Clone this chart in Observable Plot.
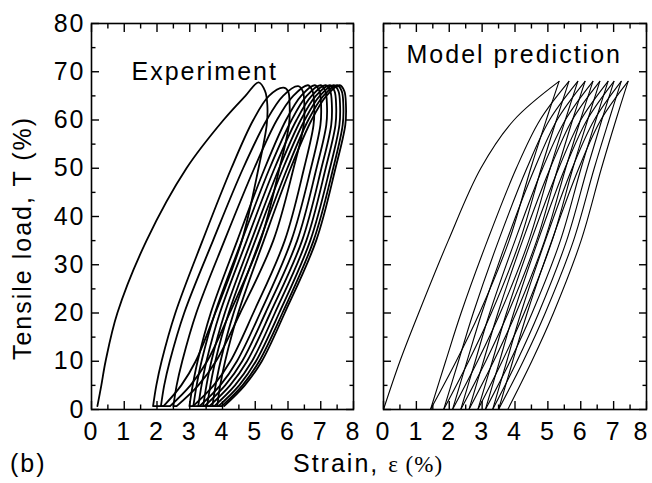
<!DOCTYPE html>
<html>
<head>
<meta charset="utf-8">
<script src="https://cdn.jsdelivr.net/npm/d3@7"></script>
<script src="https://cdn.jsdelivr.net/npm/@observablehq/plot@0.6"></script>
<style>
  body { margin: 0; background: #fff; }
  #wrap { position: relative; width: 652px; height: 483px; background: #fff; overflow: hidden; }
  #wrap svg { position: absolute; top: 0; overflow: visible; }
</style>
</head>
<body>
<div id="wrap"></div>
<script>
// ---------- tick values ----------
const xMajorTicks = [0, 1, 2, 3, 4, 5, 6, 7, 8];
const xMinorTicks = [0.5, 1.5, 2.5, 3.5, 4.5, 5.5, 6.5, 7.5];
const yMajorTicks = [0, 10, 20, 30, 40, 50, 60, 70, 80];
const yMinorTicks = [5, 15, 25, 35, 45, 55, 65, 75];

// ---------- Experiment: each loop is a strain path at these load levels ----------
// load levels along one loop: loading up, peak (per loop), rounded nose, unloading down
const expPathT = [0.7, 5, 10, 20, 35, 50, 60, 65, "peak", 66, 63, 59, 50, 35, 20, 10, 5, 0.7];
const expPeakT = [67.8, 66.7, 67.0, 67.2, 67.2, 67.2, 67.2, 67.2, 67.2, 67.2, 67.2];
const expFloorT = 0.7;
const expLoop1  = [0.18, 0.30, 0.43, 0.79, 1.68, 2.90, 4.03, 4.70, 5.10, 5.30, 5.37, 5.35, 5.10, 4.59, 3.78, 3.18, 2.74, 2.20];
const expLoop2  = [1.88, 1.98, 2.14, 2.56, 3.39, 4.27, 4.94, 5.42, 5.86, 6.00, 6.05, 6.03, 5.74, 5.16, 4.22, 3.53, 3.02, 2.40];
const expLoop3  = [2.12, 2.22, 2.39, 2.83, 3.71, 4.63, 5.35, 5.85, 6.31, 6.45, 6.50, 6.48, 6.17, 5.55, 4.54, 3.80, 3.26, 2.60];
const expLoop4  = [2.50, 2.60, 2.77, 3.20, 4.06, 4.97, 5.66, 6.16, 6.61, 6.75, 6.80, 6.78, 6.49, 5.90, 4.94, 4.24, 3.73, 3.10];
const expLoop5  = [2.99, 3.09, 3.24, 3.64, 4.45, 5.29, 5.94, 6.40, 6.82, 6.96, 7.01, 6.99, 6.70, 6.10, 5.15, 4.44, 3.93, 3.30];
const expLoop6  = [3.11, 3.21, 3.36, 3.77, 4.59, 5.44, 6.11, 6.57, 7.00, 7.14, 7.19, 7.17, 6.87, 6.28, 5.31, 4.60, 4.08, 3.45];
const expLoop7  = [3.26, 3.36, 3.51, 3.92, 4.74, 5.59, 6.26, 6.72, 7.15, 7.29, 7.34, 7.32, 7.02, 6.43, 5.46, 4.75, 4.23, 3.60];
const expLoop8  = [3.41, 3.51, 3.66, 4.07, 4.88, 5.73, 6.39, 6.85, 7.28, 7.42, 7.47, 7.45, 7.15, 6.56, 5.60, 4.90, 4.38, 3.75];
const expLoop9  = [3.53, 3.63, 3.78, 4.19, 5.00, 5.85, 6.51, 6.97, 7.40, 7.54, 7.59, 7.57, 7.28, 6.68, 5.73, 5.02, 4.51, 3.88];
const expLoop10 = [3.69, 3.79, 3.94, 4.34, 5.14, 5.98, 6.62, 7.08, 7.50, 7.64, 7.69, 7.67, 7.38, 6.78, 5.83, 5.12, 4.61, 3.98];
const expLoop11 = [3.84, 3.93, 4.08, 4.48, 5.26, 6.08, 6.72, 7.17, 7.58, 7.72, 7.77, 7.75, 7.45, 6.86, 5.90, 5.20, 4.68, 4.05];

// ---------- Model prediction: loading and unloading branches ----------
const modelLoadT   = [0, 10, 20, 35, 50, 60, 68];
const modelUnloadT = [68, 60, 50, 35, 20, 10, 0];
const modelLoad1  = [0.00, 0.50, 1.07, 1.97, 2.96, 3.97, 5.34];
const modelLoad2  = [1.43, 1.89, 2.36, 3.16, 4.04, 4.76, 5.64];
const modelLoad3  = [1.83, 2.28, 2.73, 3.50, 4.36, 5.05, 5.91];
const modelLoad4  = [2.10, 2.54, 2.99, 3.75, 4.60, 5.28, 6.13];
const modelLoad5  = [2.35, 2.79, 3.23, 4.00, 4.84, 5.53, 6.37];
const modelLoad6  = [2.60, 3.04, 3.48, 4.23, 5.07, 5.74, 6.58];
const modelLoad7  = [2.87, 3.31, 3.74, 4.49, 5.33, 6.00, 6.83];
const modelLoad8  = [3.10, 3.53, 3.96, 4.70, 5.52, 6.19, 7.01];
const modelLoad9  = [3.32, 3.75, 4.18, 4.92, 5.74, 6.41, 7.23];
const modelLoad10 = [3.50, 3.93, 4.37, 5.12, 5.94, 6.61, 7.44];
const modelUnload1  = [5.34, 4.95, 4.48, 3.82, 2.92, 2.21, 1.43];
const modelUnload2  = [5.64, 5.26, 4.80, 4.15, 3.28, 2.59, 1.83];
const modelUnload3  = [5.91, 5.53, 5.07, 4.42, 3.55, 2.86, 2.10];
const modelUnload4  = [6.13, 5.75, 5.30, 4.66, 3.79, 3.11, 2.35];
const modelUnload5  = [6.37, 5.99, 5.54, 4.90, 4.03, 3.35, 2.60];
const modelUnload6  = [6.58, 6.21, 5.76, 5.13, 4.28, 3.61, 2.87];
const modelUnload7  = [6.83, 6.46, 6.01, 5.38, 4.52, 3.85, 3.10];
const modelUnload8  = [7.01, 6.64, 6.20, 5.57, 4.72, 4.06, 3.32];
const modelUnload9  = [7.23, 6.86, 6.41, 5.78, 4.92, 4.25, 3.50];
const modelUnload10 = [7.44, 7.07, 6.63, 6.01, 5.17, 4.51, 3.78];

// ---------- build tables ----------
const expLoops = [expLoop1, expLoop2, expLoop3, expLoop4, expLoop5, expLoop6, expLoop7, expLoop8, expLoop9, expLoop10, expLoop11];
const expData = [];
expLoops.forEach((xs, i) => xs.forEach((x, j) => {
  expData.push({loop: i, x, y: expPathT[j] === "peak" ? expPeakT[i] : expPathT[j]});
}));
const expFlats = [];
for (let i = 0; i < expLoops.length - 1; i++) {
  expFlats.push({x1: expLoops[i][expLoops[i].length - 1], x2: expLoops[i + 1][0], y: expFloorT});
}

const modelLoads = [modelLoad1, modelLoad2, modelLoad3, modelLoad4, modelLoad5, modelLoad6, modelLoad7, modelLoad8, modelLoad9, modelLoad10];
const modelUnloads = [modelUnload1, modelUnload2, modelUnload3, modelUnload4, modelUnload5, modelUnload6, modelUnload7, modelUnload8, modelUnload9, modelUnload10];
const modelData = [];
modelLoads.forEach((xs, i) => xs.forEach((x, j) => modelData.push({branch: "L" + i, x, y: modelLoadT[j]})));
modelUnloads.forEach((xs, i) => xs.forEach((x, j) => modelData.push({branch: "U" + i, x, y: modelUnloadT[j]})));

// ---------- shared pieces ----------
const FONT = "'Liberation Sans', Arial, Helvetica, sans-serif";
const baseStyle = {fontFamily: FONT, fontSize: "25px", letterSpacing: "2px", background: "none", overflow: "visible", color: "black"};

function frameAndTicks(isLeft) {
  const tk = {stroke: "black", strokeWidth: 1.4, fill: "none", label: null};
  const lab = {anchor: "bottom", tickSize: 0, tickPadding: 13, fontSize: 25, fill: "black", label: null};
  const marks = [
    Plot.axisX(xMajorTicks, {...tk, anchor: "bottom", tickSize: -8}),
    Plot.axisX(xMinorTicks, {...tk, anchor: "bottom", tickSize: -4.5}),
    Plot.axisX(xMajorTicks, {...tk, anchor: "top", tickSize: -8}),
    Plot.axisX(xMinorTicks, {...tk, anchor: "top", tickSize: -4.5}),
    Plot.axisY(yMajorTicks, {...tk, anchor: "left", tickSize: -8}),
    Plot.axisY(yMinorTicks, {...tk, anchor: "left", tickSize: -4.5}),
    Plot.axisY(yMajorTicks, {...tk, anchor: "right", tickSize: -8}),
    Plot.axisY(yMinorTicks, {...tk, anchor: "right", tickSize: -4.5}),
    Plot.frame({stroke: "black", strokeWidth: 1.6})
  ];
  if (isLeft) {
    marks.push(Plot.axisX(xMajorTicks, lab));
    marks.push(Plot.axisY(yMajorTicks, {anchor: "left", tickSize: 0, tickPadding: 6, fontSize: 25, fill: "black", label: null}));
  } else {
    // last label nudged inward so it stays inside the picture, as in the reference
    marks.push(Plot.axisX(xMajorTicks.slice(0, -1), lab));
    marks.push(Plot.axisX(xMajorTicks.slice(-1), {...lab, dx: -5}));
  }
  return marks;
}

const wrap = document.getElementById("wrap");

// Left panel: Experiment
const left = Plot.plot({
  width: 370, height: 450,
  marginLeft: 91, marginRight: 17, marginTop: 23, marginBottom: 41,
  x: {domain: [0, 8], label: null},
  y: {domain: [0, 80], label: null},
  style: baseStyle,
  marks: [
    Plot.line(expData, {x: "x", y: "y", z: "loop", curve: "catmull-rom", stroke: "black", strokeWidth: 1.8}),
    Plot.link(expFlats, {x1: "x1", x2: "x2", y1: "y", y2: "y", stroke: "black", strokeWidth: 1.8}),
    Plot.text(["Experiment"], {frameAnchor: "top-left", dx: 40, dy: 48, textAnchor: "start", lineAnchor: "middle", fontSize: 25, fill: "black"}),
    ...frameAndTicks(true)
  ]
});
left.style.left = "0px";
wrap.appendChild(left);

// Right panel: Model prediction
const right = Plot.plot({
  width: 282, height: 450,
  marginLeft: 13, marginRight: 6, marginTop: 23, marginBottom: 41,
  x: {domain: [0, 8], label: null},
  y: {domain: [0, 80], label: null},
  style: baseStyle,
  marks: [
    Plot.line(modelData, {x: "x", y: "y", z: "branch", curve: "catmull-rom", stroke: "black", strokeWidth: 1.1}),
    Plot.text(["Model prediction"], {frameAnchor: "top-left", dx: 23, dy: 31, textAnchor: "start", lineAnchor: "middle", fontSize: 25, fill: "black"}),
    ...frameAndTicks(false)
  ]
});
right.style.left = "370px";
wrap.appendChild(right);

// Page-level titles
const over = d3.select(wrap).append("svg")
  .attr("width", 652).attr("height", 483)
  .style("left", "0px").style("pointer-events", "none")
  .style("font-family", FONT).style("font-size", "25px").style("letter-spacing", "2px");

over.append("text")
  .attr("transform", "translate(31,238) rotate(-90)")
  .attr("text-anchor", "middle")
  .text("Tensile load, T (%)");

const xt = over.append("text").attr("x", 293).attr("y", 472);
xt.append("tspan").text("Strain, ");
xt.append("tspan").style("font-family", "'Liberation Serif', 'Times New Roman', serif").style("font-size", "23px").style("letter-spacing", "1px").text("ε (%)");

over.append("text").attr("x", 10).attr("y", 472).text("(b)");
</script>
</body>
</html>
